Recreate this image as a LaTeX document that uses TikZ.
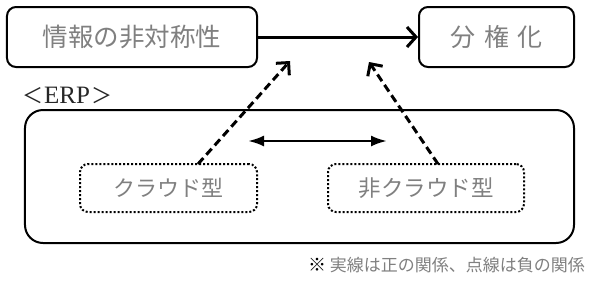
\documentclass[tikz,border=0pt]{standalone}
\usepackage{fontspec}
\newfontfamily\jp{Noto Sans CJK JP}
\newfontfamily\serifm{Liberation Serif}
\usetikzlibrary{arrows.meta}
\definecolor{txtgray}{gray}{0.5}
\tikzset{
  topbox/.style={draw, line width=2bp, rounded corners=9bp, inner sep=0pt, text=txtgray},
  erpbox/.style={draw, line width=2bp, rounded corners=18bp, inner sep=0pt},
  dotbox/.style={draw, line width=2bp, dotted, rounded corners=8bp, inner sep=0pt, text=txtgray},
  posarrow/.style={line width=3bp, -{Straight Barb[length=9bp,width=20bp,line width=3bp]}},
  negarrow/.style={line width=3bp, dash pattern=on 8bp off 4.5bp, -{Straight Barb[length=9bp,width=18bp,line width=3bp]}},
  dblarrow/.style={line width=2.6bp, {Latex[length=16bp,width=11bp]}-{Latex[length=16bp,width=11bp]}},
}
\begin{document}
\begin{tikzpicture}[x=1bp,y=-1bp]
\useasboundingbox (0,0) rectangle (600,290);
\fill[white] (0,0) rectangle (600,290);
% top boxes
\node[topbox, minimum width=250bp, minimum height=60bp] (asym) at (132,37)
  {\jp\fontsize{25.5bp}{28bp}\selectfont 情報の非対称性};
\node[topbox, minimum width=155bp, minimum height=60bp] (dec) at (496.5,37)
  {\jp\fontsize{25bp}{28bp}\selectfont 分\hspace{9bp}権\hspace{8bp}化};
% ERP label
\node[anchor=west, inner sep=0pt, text=black!85] (erplabel) at (22,95)
  {{\jp\fontsize{21bp}{24bp}\selectfont ＜}\hspace{1bp}{\serifm\fontsize{25bp}{24bp}\selectfont ERP}\hspace{1bp}{\jp\fontsize{21bp}{24bp}\selectfont ＞}};
% ERP big box
\node[erpbox, minimum width=549bp, minimum height=133bp] (erp) at (299.5,176.5) {};
% inner dotted boxes
\node[dotbox, minimum width=177bp, minimum height=48bp] (cloud) at (168.5,188)
  {\jp\fontsize{22bp}{26bp}\selectfont クラウド型};
\node[dotbox, minimum width=196bp, minimum height=48bp] (noncloud) at (426,188)
  {\jp\fontsize{22.5bp}{26bp}\selectfont 非クラウド型};
% connector endpoints
\coordinate (s1) at (198,164);
\coordinate (t1) at (290,61);
\coordinate (s2) at (438,164);
\coordinate (t2) at (369,62);
\coordinate (dl) at (248,141);
\coordinate (dr) at (387,141);
% connectors
\draw[posarrow] (asym.east) -- (dec.west);
\draw[negarrow] (s1) -- (t1);
\draw[negarrow] (s2) -- (t2);
\draw[dblarrow] (dl) -- (dr);
% footnote
\node[anchor=east, inner sep=0pt] (note) at (585,265)
  {\jp\fontsize{17bp}{20bp}\selectfont {\fontsize{18bp}{20bp}\selectfont ※}\,\textcolor{txtgray}{実線は正の関係、点線は負の関係}};
\end{tikzpicture}
\end{document}
